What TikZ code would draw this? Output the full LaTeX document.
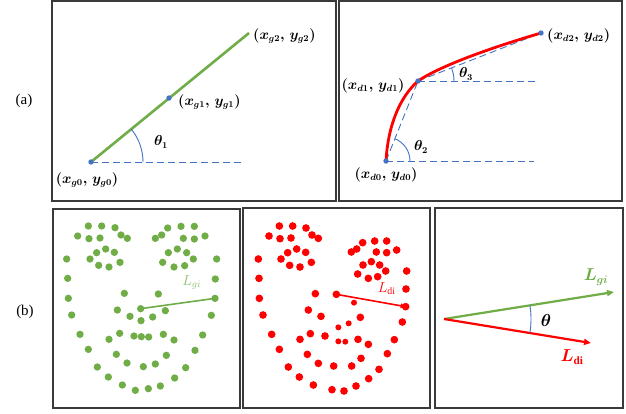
\documentclass[tikz,border=0pt]{standalone}
\usepackage{amsmath,bm}
\usepackage{fontspec}
\setmainfont{Liberation Serif}
\usetikzlibrary{arrows.meta,calc}
\definecolor{gc}{HTML}{70AD47}
\definecolor{gl}{HTML}{8CBF6C}
\definecolor{bc}{HTML}{4472C4}
\definecolor{rc}{HTML}{FF0000}
\definecolor{framec}{HTML}{3A3A3A}
\begin{document}
\begin{tikzpicture}[x=1pt,y=-1pt,
  panel/.style={draw=framec,line width=1.1pt},
  bdot/.style={fill=bc},
  lbl/.style={font=\fontsize{13.5}{16}\selectfont,inner sep=0pt},
  biglbl/.style={font=\fontsize{15}{17}\selectfont,inner sep=0pt},
  dashln/.style={draw=bc,line width=0.9pt,dash pattern=on 7pt off 4pt},
  anglearc/.style={draw=bc,line width=0.9pt},
  gdot/.style={fill=gc},
  rdot/.style={fill=rc}]
\useasboundingbox (0,0) rectangle (626,413);
\fill[white] (0,0) rectangle (626,413);

% panel frames
\draw[panel] (52,1) rectangle (336,201);
\draw[panel] (339,1) rectangle (622,201);
\draw[panel] (53,209) rectangle (240,408);
\draw[panel] (243,208) rectangle (430,408);
\draw[panel] (435,208) rectangle (623,408);

\node[biglbl] (la) at (24,101) {(a)};
\node[biglbl] (lb) at (25,312) {(b)};

% ---------- (a) left ----------
\coordinate (g0) at (91,162);
\coordinate (g1) at (169,98);
\coordinate (g2) at (249,33);
\coordinate (g0h) at (244,162);
\draw[dashln] (g0) -- (g0h);
\draw[gc,line width=2.6pt] (g0) -- (g2);
\draw[anglearc] ($(g0)+(52,0)$) arc[start angle=0,end angle=-39.2,radius=52];
\fill[bdot] (g0) circle[radius=2.7];
\fill[bdot] (g1) circle[radius=2.7];
\node[lbl,anchor=west] (tg2) at (253,36) {$\bm{(x_{g2},\,y_{g2})}$};
\node[lbl,anchor=west] (tg1) at (178,102) {$\bm{(x_{g1},\,y_{g1})}$};
\node[lbl] (tg0) at (87,180) {$\bm{(x_{g0},\,y_{g0})}$};
\node[lbl] (th1) at (161,142) {$\bm{\theta_1}$};

% ---------- (a) right ----------
\coordinate (d0) at (386,161);
\coordinate (d1) at (418,81);
\coordinate (d2) at (541,33);
\coordinate (d0h) at (534,161);
\coordinate (d1h) at (538,81);
\draw[dashln] (d0) -- (d0h);
\draw[dashln] (d1) -- (d1h);
\draw[dashln] (d0) -- (d1);
\draw[dashln] (d1) -- (d2);
\draw[rc,line width=2.8pt] (d0) .. controls (388,125) and (400,97) .. (d1)
   .. controls (440,66) and (490,48) .. (d2);
\draw[anglearc] ($(d0)+(24,0)$) arc[start angle=0,end angle=-68.2,radius=24];
\draw[anglearc] ($(d1)+(36,0)$) arc[start angle=0,end angle=-21.3,radius=36];
\fill[bdot] (d0) circle[radius=2.7];
\fill[bdot] (d1) circle[radius=2.7];
\fill[bdot] (d2) circle[radius=2.7];
\node[lbl,anchor=west] (td2) at (547,36) {$\bm{(x_{d2},\,y_{d2})}$};
\node[lbl] (td1) at (373,86) {$\bm{(x_{d1},\,y_{d1})}$};
\node[lbl] (td0) at (386,175) {$\bm{(x_{d0},\,y_{d0})}$};
\node[lbl] (th2) at (421,147) {$\bm{\theta_2}$};
\node[lbl] (th3) at (466,74) {$\bm{\theta_3}$};

% ---------- (b) left: green landmarks ----------
\begin{scope}[shift={(50,205)},scale=1/3]
\foreach \px/\py in {115/63,155/63,195/68,213/90,232/100,83/93,117/101,150/99,140/143,167/132,193/142,120/162,146/181,177/186,210/172,
353/69,393/64,433/64,335/90,316/100,400/100,433/102,465/93,355/143,382/132,410/143,430/162,338/172,372/186,404/182,
50/162,53/220,55/280,65/330,90/388,115/433,142/486,175/516,217/540,256/556,295/551,331/543,374/519,407/488,435/436,458/390,484/331,495/280,496/222,500/162,
223/265,325/267,202/315,272/311,346/317,240/334,273/347,308/336,209/385,252/393,274/395,296/396,340/388,177/403,372/405,199/448,349/451,231/474,280/485,316/477}
  \fill[gdot] (\px,\py) circle[radius=11];
\coordinate (gs) at (272,311);
\coordinate (ge) at (495,280);
\draw[gc,line width=1.6pt] (gs) -- (ge);
\node[font=\fontsize{14}{16}\selectfont,text=gl,inner sep=0pt] (lgi) at (425,232) {$L_{gi}$};
\end{scope}

% ---------- (b) middle: red landmarks ----------
\begin{scope}[shift={(240,205)},scale=1/3]
\foreach \px/\py in {118/63,158/63,198/69,216/90,235/100,87/93,120/101,153/99,143/143,170/132,197/142,123/162,149/181,180/186,214/172,
368/113,404/108,440/108,350/132,334/141,409/141,440/143,470/135,369/180,394/170,419/180,437/198,353/207,385/220,413/215,
55/162,57/220,58/280,69/330,95/388,118/433,145/486,178/516,220/540,276/554,312/558,348/543,386/521,417/493,442/446,463/404,487/351,497/305,498/252,500/198,
226/266,289/268,205/315,243/334,361/337,211/386,255/393,180/403,354/403,385/418,202/448,363/460,235/475,281/483,335/483}
  \fill[rdot] (\px,\py) circle[radius=11.5];
\foreach \px/\py in {342/293,326/355,295/367,295/409,316/410}
  \fill[rdot] (\px,\py) circle[radius=9];
\coordinate (rs) at (289,268);
\coordinate (re) at (497,305);
\draw[rc,line width=1.6pt,-{Triangle[length=5pt,width=4.5pt]}] (rs) -- (re);
\node[font=\fontsize{14}{16}\selectfont,text=rc,inner sep=0pt] (ldi) at (440,250) {$L_{\mathrm{di}}$};
\end{scope}

% ---------- (b) right: angle ----------
\coordinate (o) at (444,319);
\coordinate (gend) at (614,292);
\coordinate (rend) at (591,343);
\draw[gc,line width=2.2pt,-{Triangle[length=7pt,width=6pt]}] (o) -- (gend);
\draw[rc,line width=2.2pt,-{Triangle[length=7pt,width=6pt]}] (o) -- (rend);
\draw[anglearc] ($(o)+(9.3:87)$) arc[start angle=9.3,end angle=-9.0,radius=87];
\node[font=\fontsize{16}{18}\selectfont,inner sep=0pt] (tth) at (546,320) {$\bm{\theta}$};
\node[font=\fontsize{16}{18}\selectfont,text=gc,inner sep=0pt] (tlg) at (596,277) {$\bm{L_{gi}}$};
\node[font=\fontsize{16}{18}\selectfont,text=rc,inner sep=0pt] (tld) at (572,357) {$\bm{L}_{\mathbf{di}}$};
\end{tikzpicture}
\end{document}
